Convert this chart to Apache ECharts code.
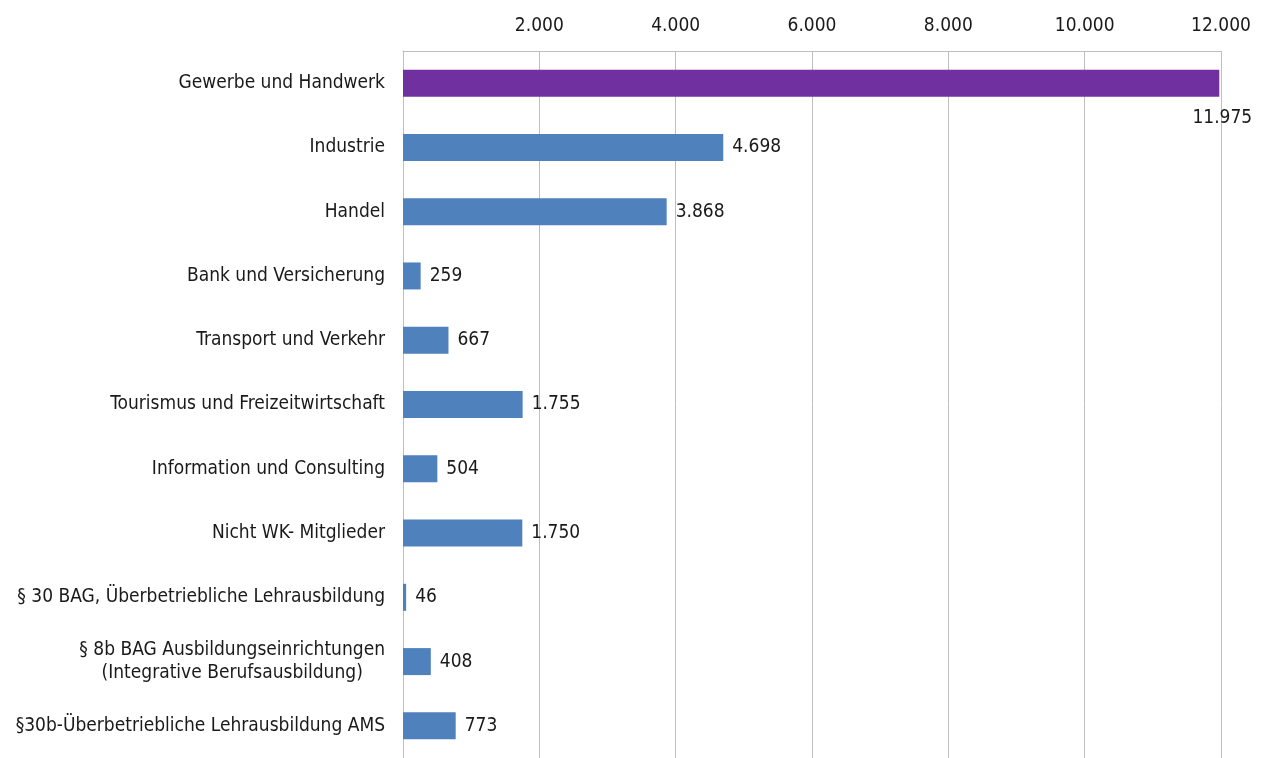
<!DOCTYPE html>
<html>
<head>
<meta charset="utf-8">
<script src="https://cdn.jsdelivr.net/npm/echarts@6/dist/echarts.min.js"></script>
<style>
html,body{margin:0;padding:0;background:#fff;}
#c{width:1265px;height:758px;}
</style>
</head>
<body>
<div id="c"></div>
<script>
const categories = [
  "Gewerbe und Handwerk",
  "Industrie",
  "Handel",
  "Bank und Versicherung",
  "Transport und Verkehr",
  "Tourismus und Freizeitwirtschaft",
  "Information und Consulting",
  "Nicht WK- Mitglieder",
  "§ 30 BAG, Überbetriebliche Lehrausbildung",
  "§ 8b BAG Ausbildungseinrichtungen\n(Integrative Berufsausbildung)",
  "§30b-Überbetriebliche Lehrausbildung AMS"
];
const values = [11975, 4698, 3868, 259, 667, 1755, 504, 1750, 46, 408, 773];
const axisTicks = [0, 2000, 4000, 6000, 8000, 10000, 12000];

const FONT = "DejaVu Sans Condensed";
const FS = 19;
const TXT = "#1a1a1a";
function de(n){ return String(n).replace(/\B(?=(\d{3})+(?!\d))/g, "."); }

const data = values.map((v, i) => {
  if (i === 0) {
    return {
      value: v,
      itemStyle: { color: "#7030A0" },
      label: { position: ["100%", "100%"], align: "center", verticalAlign: "top", offset: [3, 12] }
    };
  }
  return v;
});

const chart = echarts.init(document.getElementById("c"), null, { renderer: "canvas" });
chart.setOption({
  animation: false,
  backgroundColor: "#ffffff",
  grid: { left: 403, top: 51, width: 818, height: 715, containLabel: false },
  xAxis: {
    type: "value",
    position: "top",
    min: axisTicks[0],
    max: axisTicks[axisTicks.length - 1],
    interval: 2000,
    axisLine: { show: true, lineStyle: { color: "#BFBFBF", width: 1 } },
    axisTick: { show: false },
    splitLine: { show: true, lineStyle: { color: "#BFBFBF", width: 1 } },
    axisLabel: {
      margin: 15,
      fontFamily: FONT, fontSize: FS, color: TXT,
      formatter: v => (v === 0 ? "" : de(v))
    }
  },
  yAxis: {
    type: "category",
    inverse: true,
    data: categories,
    axisLine: { show: true, lineStyle: { color: "#BFBFBF", width: 1 } },
    axisTick: { show: false },
    axisLabel: {
      margin: 18,
      fontFamily: FONT, fontSize: FS, color: TXT, lineHeight: 23,
      formatter: v => v.split("\n").map(s => "{c|" + s + "}").join("\n"),
      rich: { c: { align: "center", fontFamily: FONT, fontSize: FS, color: TXT, lineHeight: 23 } }
    }
  },
  series: [{
    type: "bar",
    data: data,
    barWidth: 27,
    itemStyle: { color: "#4F81BD" },
    label: {
      show: true,
      position: "right",
      distance: 9,
      fontFamily: FONT, fontSize: FS, color: TXT,
      formatter: p => de(p.value)
    }
  }]
});
</script>
</body>
</html>
